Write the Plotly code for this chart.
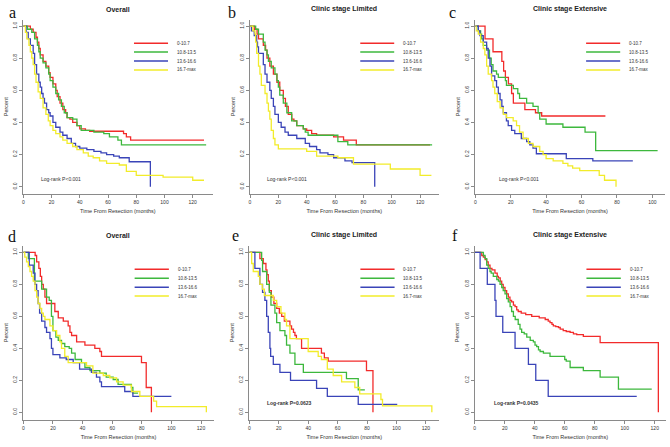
import plotly.graph_objects as go

RED, GREEN, BLUE, YELLOW = "#F22B2B", "#3DB83D", "#3A44B8", "#F2EC2A"
colors = [RED, GREEN, BLUE, YELLOW]
groups = ["0-10.7", "10.8-13.5", "13.6-16.6", "16.7-max"]
titles = ["Overall", "Clinic stage Limited", "Clinic stage Extensive",
          "Overall", "Clinic stage Limited", "Clinic stage Extensive"]
letters = ["a", "b", "c", "d", "e", "f"]
pvals = ["Log-rank P<0.001", "Log-rank P<0.001", "Log-rank P<0.001",
         "", "Log-rank P=0.0623", "Log-rank P=0.0435"]
x_ticks_top = [0, 20, 40, 60, 80, 100, 120]
y_ticks = [0.0, 0.2, 0.4, 0.6, 0.8, 1.0]

# ---------------- Panel a ----------------
a_red_t = [0, 5, 7, 9, 10, 11, 12, 14, 16, 18, 19, 21, 23, 24, 26, 28, 30, 31, 33, 35, 38, 40, 44, 47, 71, 73, 76, 128]
a_red_s = [1.0, 0.98, 0.96, 0.93, 0.90, 0.86, 0.82, 0.78, 0.75, 0.71, 0.68, 0.64, 0.60, 0.56, 0.52, 0.48, 0.46, 0.43, 0.42, 0.40, 0.38, 0.36, 0.35, 0.345, 0.33, 0.31, 0.29, 0.29]
a_grn_t = [0, 3, 6, 8, 10, 11, 12, 14, 16, 18, 19, 21, 23, 25, 27, 29, 31, 35, 38, 41, 50, 57, 61, 67, 69.5, 129.5]
a_grn_s = [1.0, 0.98, 0.96, 0.92, 0.88, 0.84, 0.80, 0.77, 0.74, 0.70, 0.66, 0.62, 0.58, 0.54, 0.50, 0.46, 0.43, 0.42, 0.38, 0.35, 0.34, 0.33, 0.31, 0.29, 0.26, 0.26]
a_blu_t = [0, 2, 3.5, 5, 7, 8, 9.4, 11, 12, 13, 14, 15, 16.5, 18, 19, 21, 23, 26, 28, 31, 34, 37, 40, 45, 50, 55, 59, 64, 68, 75, 90, 90]
a_blu_s = [1.0, 0.96, 0.92, 0.88, 0.83, 0.76, 0.70, 0.65, 0.62, 0.58, 0.55, 0.52, 0.48, 0.46, 0.44, 0.40, 0.37, 0.34, 0.32, 0.30, 0.27, 0.25, 0.24, 0.23, 0.22, 0.21, 0.20, 0.19, 0.18, 0.155, 0.155, 0.0]
a_yel_t = [0, 1.5, 2.5, 4, 5, 6, 7, 8, 9, 10.5, 12, 14, 16, 17.7, 19, 21, 23, 26, 28, 31, 35, 38, 42.5, 46, 49.5, 54, 59, 68, 73, 80, 99, 120, 128]
a_yel_s = [1.0, 0.96, 0.92, 0.88, 0.84, 0.80, 0.76, 0.70, 0.65, 0.59, 0.55, 0.49, 0.45, 0.41, 0.38, 0.35, 0.33, 0.31, 0.29, 0.27, 0.25, 0.23, 0.21, 0.19, 0.18, 0.16, 0.145, 0.135, 0.095, 0.07, 0.06, 0.04, 0.04]

# ---------------- Panel b ----------------
b_red_t = [0, 3, 5, 6, 9.4, 11, 12, 14, 16.5, 19, 21, 23.5, 25, 27, 29.5, 31, 33, 37.6, 40, 43.5, 47, 59, 66, 75, 127]
b_red_s = [1.0, 0.98, 0.95, 0.92, 0.88, 0.85, 0.80, 0.75, 0.70, 0.65, 0.60, 0.55, 0.50, 0.45, 0.42, 0.41, 0.38, 0.36, 0.35, 0.33, 0.32, 0.31, 0.29, 0.26, 0.26]
b_grn_t = [0, 4, 6, 9.4, 10.6, 12, 13, 15, 17.6, 19, 20, 21, 23.5, 26, 29.4, 33, 37.6, 39, 41, 62, 69, 128.5]
b_grn_s = [1.0, 0.98, 0.95, 0.90, 0.85, 0.82, 0.78, 0.74, 0.70, 0.66, 0.62, 0.57, 0.52, 0.46, 0.41, 0.38, 0.36, 0.34, 0.32, 0.28, 0.26, 0.26]
b_blu_t = [0, 1, 3, 4.7, 5.3, 6, 9.4, 10.6, 12, 14, 15, 16.5, 17.6, 20, 22, 24.7, 27, 33, 39, 42, 47, 49.4, 55, 59, 67, 72, 88, 88]
b_blu_s = [1.0, 0.97, 0.94, 0.90, 0.87, 0.83, 0.76, 0.70, 0.65, 0.60, 0.55, 0.50, 0.45, 0.40, 0.37, 0.34, 0.32, 0.30, 0.27, 0.25, 0.23, 0.21, 0.20, 0.18, 0.16, 0.15, 0.15, 0.0]
b_yel_t = [0, 2, 3.5, 4, 4.7, 6, 7, 8, 10.6, 12, 13, 14, 15, 16.5, 17.6, 20, 40, 47, 62, 73, 99, 120, 128]
b_yel_s = [1.0, 0.97, 0.95, 0.90, 0.83, 0.75, 0.70, 0.63, 0.58, 0.52, 0.47, 0.42, 0.35, 0.30, 0.26, 0.235, 0.22, 0.19, 0.18, 0.14, 0.11, 0.07, 0.07]

# ---------------- Panel c ----------------
c_red_t = [0, 5.5, 10, 15, 16, 17, 18.7, 20.5, 21.5, 28, 34, 37.5, 73.5]
c_red_s = [1.0, 0.92, 0.84, 0.78, 0.72, 0.68, 0.64, 0.58, 0.52, 0.48, 0.46, 0.44, 0.44]
c_grn_t = [0, 1.7, 3, 3.6, 4.5, 6.4, 8, 9, 10, 12, 13, 17, 17.6, 21.5, 24, 25, 29, 32.6, 35.5, 36.4, 40, 49.5, 62, 68, 103]
c_grn_s = [1.0, 0.97, 0.95, 0.92, 0.88, 0.85, 0.80, 0.76, 0.72, 0.70, 0.68, 0.66, 0.63, 0.61, 0.58, 0.55, 0.52, 0.50, 0.46, 0.42, 0.39, 0.37, 0.34, 0.225, 0.225]
c_blu_t = [0, 1.7, 2.6, 4.5, 6.4, 7.3, 8.3, 9.2, 11, 12, 13, 14, 15, 15.8, 17.6, 18.6, 20.5, 22.3, 26, 29, 30.8, 32.6, 34.5, 51.4, 66.4, 89]
c_blu_s = [1.0, 0.97, 0.94, 0.90, 0.86, 0.80, 0.75, 0.69, 0.66, 0.62, 0.58, 0.54, 0.50, 0.46, 0.41, 0.38, 0.35, 0.33, 0.30, 0.28, 0.26, 0.24, 0.205, 0.175, 0.16, 0.16]
c_yel_t = [0, 0.5, 1.7, 3, 4.5, 5.4, 6.4, 7.3, 9.2, 10, 11, 12.4, 14, 15.8, 17.6, 21.4, 23.3, 25, 27, 30, 32.6, 36.4, 38.3, 40, 44, 49.5, 52.3, 55, 59, 70, 73, 79.5, 79.5]
c_yel_s = [1.0, 0.97, 0.95, 0.90, 0.86, 0.82, 0.75, 0.70, 0.66, 0.62, 0.58, 0.53, 0.49, 0.45, 0.43, 0.41, 0.38, 0.34, 0.30, 0.27, 0.25, 0.22, 0.20, 0.175, 0.16, 0.145, 0.13, 0.115, 0.10, 0.07, 0.04, 0.04, 0.0]

# ---------------- Panel d ----------------
d_red_t = [0, 8, 9, 10.5, 11.5, 12.4, 13.5, 14.6, 15.7, 21.3, 23.6, 27, 30.3, 31.5, 32.6, 36, 41.6, 48.3, 51.7, 52.8, 79.8, 83, 86.5, 86.5]
d_red_s = [1.0, 0.98, 0.94, 0.90, 0.85, 0.80, 0.77, 0.72, 0.68, 0.63, 0.59, 0.57, 0.54, 0.50, 0.48, 0.44, 0.42, 0.40, 0.38, 0.35, 0.31, 0.155, 0.155, 0.0]
d_grn_t = [0, 3.4, 7.5, 12.4, 15.7, 17.5, 19, 20, 22, 23.6, 25.8, 28, 31, 32.6, 35, 39.3, 41.6, 45, 51.7, 56, 60.7, 64, 73, 74, 77.5]
d_grn_s = [1.0, 0.96, 0.82, 0.77, 0.72, 0.70, 0.60, 0.51, 0.47, 0.45, 0.43, 0.41, 0.40, 0.37, 0.33, 0.31, 0.28, 0.26, 0.245, 0.22, 0.205, 0.175, 0.155, 0.12, 0.12]
d_blu_t = [0, 4, 6.7, 7.9, 9, 10, 11, 12.4, 14.6, 15.7, 18, 19, 20, 24.7, 29, 33.7, 38, 46, 49.4, 51.7, 52.8, 68.5, 74, 100]
d_blu_s = [1.0, 0.92, 0.87, 0.80, 0.76, 0.68, 0.62, 0.57, 0.53, 0.50, 0.46, 0.40, 0.36, 0.34, 0.33, 0.31, 0.27, 0.25, 0.22, 0.19, 0.16, 0.13, 0.10, 0.10]
d_yel_t = [0, 1, 2.2, 3.4, 4.5, 5.6, 6.7, 7.9, 9, 10, 11.2, 12.4, 13.5, 14.6, 18, 20, 22.5, 24.7, 25.8, 28, 30.3, 42.7, 47, 54, 58.4, 63, 67.4, 73, 78.7, 88, 90, 123.6, 123.6]
d_yel_s = [1.0, 0.97, 0.94, 0.91, 0.88, 0.85, 0.82, 0.76, 0.72, 0.68, 0.65, 0.62, 0.60, 0.58, 0.54, 0.51, 0.48, 0.44, 0.40, 0.35, 0.31, 0.29, 0.245, 0.23, 0.215, 0.19, 0.17, 0.13, 0.10, 0.07, 0.035, 0.035, 0.0]

# ---------------- Panel e ----------------
e_red_t = [0, 7.2, 9.5, 11.3, 12, 12.9, 13.6, 15, 16.7, 18.6, 20.4, 22, 23.8, 27.6, 28.7, 30, 31, 32, 35.5, 49, 51, 53.6, 79.6, 84, 84]
e_red_s = [1.0, 0.96, 0.93, 0.89, 0.86, 0.82, 0.76, 0.72, 0.68, 0.65, 0.62, 0.60, 0.57, 0.54, 0.52, 0.50, 0.48, 0.46, 0.40, 0.37, 0.34, 0.32, 0.26, 0.26, 0.0]
e_grn_t = [0, 8.4, 9, 11.8, 13.6, 14.7, 17.4, 18.6, 20.8, 24.2, 25.3, 27.6, 31, 36.7, 66, 74, 78.5]
e_grn_s = [1.0, 0.95, 0.88, 0.80, 0.75, 0.67, 0.62, 0.56, 0.51, 0.48, 0.42, 0.37, 0.30, 0.25, 0.21, 0.14, 0.14]
e_blu_t = [0, 3.8, 7.2, 9, 10.6, 11.8, 12.9, 14, 14.5, 16.3, 20.8, 28, 45.7, 53, 74, 100.5]
e_blu_s = [1.0, 0.90, 0.80, 0.75, 0.70, 0.60, 0.50, 0.40, 0.35, 0.30, 0.25, 0.20, 0.15, 0.10, 0.05, 0.05]
e_yel_t = [0, 1.6, 2.7, 6.1, 7.2, 8.8, 10.2, 16.3, 18.6, 21.5, 24.2, 25.3, 27.6, 40, 46.8, 49, 53, 57, 62.7, 71.7, 75, 89.4, 90.5, 124, 124]
e_yel_s = [1.0, 0.93, 0.88, 0.85, 0.80, 0.77, 0.73, 0.70, 0.66, 0.62, 0.58, 0.54, 0.46, 0.38, 0.35, 0.33, 0.27, 0.23, 0.19, 0.155, 0.115, 0.08, 0.04, 0.04, 0.0]

# ---------------- Panel f ----------------
f_red_t = [0, 4.7, 5.8, 7, 8, 9, 10.2, 11.5, 13.5, 15, 15.8, 17, 18, 19, 20.2, 21.3, 22.4, 23.5, 24.6, 25.8, 26.9, 28, 29, 31, 34, 38, 43, 47, 49, 50.2, 51.5, 52.4, 54, 55.8, 57, 59, 61, 63.6, 65.8, 68, 72.4, 83.6, 122.4, 122.4]
f_red_s = [1.0, 0.98, 0.97, 0.955, 0.94, 0.92, 0.90, 0.89, 0.87, 0.85, 0.84, 0.82, 0.80, 0.78, 0.76, 0.74, 0.72, 0.70, 0.69, 0.67, 0.66, 0.64, 0.63, 0.62, 0.61, 0.60, 0.59, 0.58, 0.57, 0.56, 0.55, 0.54, 0.535, 0.53, 0.52, 0.51, 0.505, 0.50, 0.49, 0.485, 0.475, 0.435, 0.435, 0.0]
f_grn_t = [0, 5.8, 6.9, 8, 9, 10.2, 11, 12.4, 14.7, 15.8, 16.9, 18, 19, 20.2, 21.3, 22.4, 23.6, 24.6, 25.8, 27, 29, 30.2, 31.3, 33, 34.7, 37, 39.1, 40.2, 41.3, 42.5, 43.6, 45.8, 50.2, 60, 61, 63.6, 72.4, 83.6, 95.8, 118]
f_grn_s = [1.0, 0.98, 0.96, 0.92, 0.90, 0.88, 0.87, 0.85, 0.83, 0.82, 0.80, 0.78, 0.76, 0.74, 0.71, 0.69, 0.66, 0.63, 0.60, 0.58, 0.55, 0.52, 0.50, 0.49, 0.47, 0.45, 0.44, 0.42, 0.41, 0.39, 0.38, 0.37, 0.35, 0.33, 0.32, 0.28, 0.26, 0.22, 0.145, 0.145]
f_blu_t = [0, 3.6, 8.4, 13.5, 14.2, 18.7, 26.9, 35.8, 40.7, 49, 108]
f_blu_s = [1.0, 0.90, 0.80, 0.70, 0.60, 0.50, 0.40, 0.30, 0.20, 0.10, 0.10]
f_yel_t = []
f_yel_s = []

panels = [
    [(a_red_t, a_red_s), (a_grn_t, a_grn_s), (a_blu_t, a_blu_s), (a_yel_t, a_yel_s)],
    [(b_red_t, b_red_s), (b_grn_t, b_grn_s), (b_blu_t, b_blu_s), (b_yel_t, b_yel_s)],
    [(c_red_t, c_red_s), (c_grn_t, c_grn_s), (c_blu_t, c_blu_s), (c_yel_t, c_yel_s)],
    [(d_red_t, d_red_s), (d_grn_t, d_grn_s), (d_blu_t, d_blu_s), (d_yel_t, d_yel_s)],
    [(e_red_t, e_red_s), (e_grn_t, e_grn_s), (e_blu_t, e_blu_s), (e_yel_t, e_yel_s)],
    [(f_red_t, f_red_s), (f_grn_t, f_grn_s), (f_blu_t, f_blu_s), (f_yel_t, f_yel_s)],
]

W, H = 670, 447
# layout geometry (pixels)
x_doms_px = [(23.3, 212.5), (250.0, 438.5), (475.3, 664.7),
             (23.3, 213.6), (249.3, 439.2), (474.7, 665.7)]
x_ranges = [(0, 134), (0, 133), (0, 107), (0, 128.5), (0, 129), (0, 127.3)]
y_doms_px = [(19.6, 193.9)] * 3 + [(245.9, 419.5)] * 3
y_range = (-0.045, 1.04)
x_tickvals = [x_ticks_top, x_ticks_top, [0, 20, 40, 60, 80, 100],
              x_ticks_top, x_ticks_top, x_ticks_top]
# legend key positions in axis-domain fraction
leg_x0, leg_x1, leg_tx = 0.585, 0.765, 0.80
leg_y = [0.865, 0.814, 0.762, 0.711]
pval_pos = [(11, 0.05), (10.6, 0.05), (12, 0.05), (0, 0), (10.6, 0.056), (11.3, 0.056)]

FONT = "Liberation Sans"
AX = "#8a8a8a"

fig = go.Figure()
layout = dict(width=W, height=H, autosize=False, margin=dict(l=0, r=0, t=0, b=0),
              paper_bgcolor="white", plot_bgcolor="white", showlegend=False, hovermode=False,
              font=dict(family=FONT, color="#222222"))
annotations = []
shapes = []

for i in range(6):
    n = i + 1
    xs = "" if n == 1 else str(n)
    xa, ya = "xaxis" + xs, "yaxis" + xs
    xr, yr = "x" + xs, "y" + xs
    (px0, px1) = x_doms_px[i]
    (py0, py1) = y_doms_px[i]
    layout[xa] = dict(domain=[px0 / W, px1 / W], range=list(x_ranges[i]), anchor=yr,
                      showgrid=False, zeroline=False, showline=True, linecolor=AX, linewidth=1,
                      ticks="outside", ticklen=3, tickcolor=AX, tickwidth=1,
                      tickvals=x_tickvals[i], tickfont=dict(size=5, color="#333333"),
                      title=dict(text="Time From Resection (months)", font=dict(size=5.5, color="#333333"),
                                 standoff=5))
    layout[ya] = dict(domain=[1 - py1 / H, 1 - py0 / H], range=list(y_range), anchor=xr,
                      showgrid=False, zeroline=False, showline=True, linecolor=AX, linewidth=1,
                      ticks="outside", ticklen=3, tickcolor=AX, tickwidth=1,
                      tickvals=y_ticks, ticktext=["%.1f" % v for v in y_ticks], tickangle=-90,
                      tickfont=dict(size=5, color="#333333"),
                      title=dict(text="Percent", font=dict(size=5.5, color="#333333"), standoff=3))
    for k in range(4):
        t, s = panels[i][k]
        if len(t) == 0:
            continue
        fig.add_trace(go.Scatter(x=t, y=s, mode="lines", line=dict(color=colors[k], width=1.3, shape="hv"),
                                 xaxis=xr, yaxis=yr, name=groups[k], hoverinfo="skip"))
    # legend keys
    for k in range(4):
        shapes.append(dict(type="line", xref=xr + " domain", yref=yr + " domain",
                           x0=leg_x0, x1=leg_x1, y0=leg_y[k], y1=leg_y[k],
                           line=dict(color=colors[k], width=1.5)))
        annotations.append(dict(text=groups[k], xref=xr + " domain", yref=yr + " domain",
                                x=leg_tx, y=leg_y[k], xanchor="left", yanchor="middle", showarrow=False,
                                font=dict(size=4.5, color="#333333")))
    # title
    annotations.append(dict(text="<b>" + titles[i] + "</b>", xref=xr + " domain", yref="paper",
                            x=0.5, y=1 - (9.5 if i < 3 else 235) / H, xanchor="center", yanchor="middle",
                            showarrow=False, font=dict(size=7, color="#222222")))
    # panel letter
    lx = [12, 232, 452, 12, 236, 455][i]
    ly = [13, 13, 13, 236, 235, 235][i]
    annotations.append(dict(text=letters[i], xref="paper", yref="paper", x=lx / W, y=1 - ly / H,
                            xanchor="center", yanchor="middle", showarrow=False,
                            font=dict(family="Liberation Serif", size=16, color="#111111")))
    # log-rank text
    if pvals[i]:
        txt = pvals[i] if i < 3 else "<b>" + pvals[i] + "</b>"
        annotations.append(dict(text=txt, xref=xr, yref=yr, x=pval_pos[i][0], y=pval_pos[i][1],
                                xanchor="left", yanchor="middle", showarrow=False,
                                font=dict(size=5, color="#333333")))

layout["annotations"] = annotations
layout["shapes"] = shapes
fig.update_layout(**layout)
fig.write_html("out.html", config={"displayModeBar": False, "staticPlot": True},
               post_script="document.body.style.margin='0';document.body.style.overflow='hidden';")
